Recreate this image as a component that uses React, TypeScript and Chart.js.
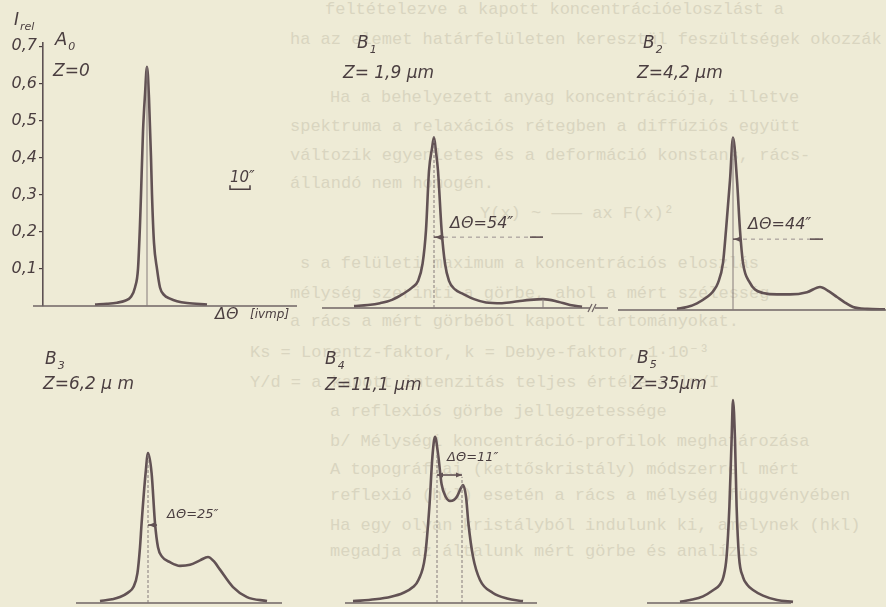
import React, { useEffect, useRef } from 'react';
import { Chart, registerables } from 'chart.js';
Chart.register(...registerables);

// ---------------- DATA (Δθ in arc-seconds from the main peak, relative intensity) ----------------
const A0_THETA = [-26, -20, -15, -11, -8, -6, -4.5, -3.5, -3, -2, -1, 0, 1, 2, 2.5, 3.5, 5, 6.5, 8.5, 11.5, 15, 20, 30];
const A0_IREL = [0.004, 0.006, 0.009, 0.014, 0.025, 0.05, 0.1, 0.22, 0.3, 0.47, 0.57, 0.645, 0.56, 0.4, 0.3, 0.17, 0.1, 0.05, 0.03, 0.02, 0.013, 0.008, 0.004];

const B1_THETA = [-40, -33, -27, -21, -15.5, -11, -8, -5.7, -4, -2.5, -1, 0, 1, 2, 3.8, 5.5, 7.5, 10.5, 14.5, 20, 26, 34, 42, 48, 54.5, 62, 68, 74];
const B1_IREL = [0.005, 0.008, 0.013, 0.022, 0.038, 0.055, 0.073, 0.12, 0.21, 0.37, 0.43, 0.46, 0.42, 0.37, 0.21, 0.12, 0.073, 0.05, 0.038, 0.024, 0.015, 0.013, 0.018, 0.022, 0.024, 0.017, 0.008, 0.003];

const B2_THETA = [-28, -23, -18, -13, -10, -7.5, -5, -3.5, -1.5, 0, 2, 3.5, 5, 8.5, 11, 15, 22, 28.5, 37, 43.5, 48, 52, 56, 60, 67, 76];
const B2_IREL = [0.003, 0.008, 0.018, 0.035, 0.05, 0.073, 0.127, 0.215, 0.35, 0.465, 0.35, 0.215, 0.127, 0.073, 0.055, 0.046, 0.042, 0.042, 0.048, 0.062, 0.05, 0.035, 0.02, 0.008, 0.003, 0.002];

const B3_THETA = [-24, -18, -14, -10, -7.3, -5.3, -4, -3.2, -1.2, 0, 1.8, 3.5, 5, 7, 11, 16, 21, 26, 30, 33, 36, 42.5, 49.5, 59.5];
const B3_IREL = [0.005, 0.01, 0.016, 0.028, 0.043, 0.08, 0.15, 0.215, 0.35, 0.404, 0.35, 0.215, 0.15, 0.125, 0.11, 0.1, 0.103, 0.115, 0.124, 0.112, 0.09, 0.043, 0.016, 0.005];

const B4_THETA = [-41, -30, -22, -16, -11, -8.3, -5, -2.8, -1.3, 0, 1.7, 3.3, 5.5, 7.5, 9.5, 11, 13, 14, 15.5, 16.7, 19, 22.5, 29, 36, 44];
const B4_IREL = [0.005, 0.01, 0.017, 0.027, 0.043, 0.062, 0.125, 0.26, 0.394, 0.448, 0.394, 0.32, 0.285, 0.275, 0.278, 0.287, 0.31, 0.318, 0.287, 0.215, 0.125, 0.062, 0.027, 0.012, 0.005];

const B5_THETA = [-26.5, -21.5, -15, -9.8, -6.5, -4.8, -3.2, -1.8, -0.7, 0, 1, 1.8, 3, 5, 7, 10, 15, 22, 30];
const B5_IREL = [0.003, 0.008, 0.018, 0.035, 0.05, 0.07, 0.125, 0.26, 0.44, 0.547, 0.44, 0.26, 0.125, 0.07, 0.05, 0.035, 0.02, 0.008, 0.003];

const Y_TICKS = [0.1, 0.2, 0.3, 0.4, 0.5, 0.6, 0.7];
const SAMPLE_NAMES = ['A', 'B', 'B', 'B', 'B', 'B'];
const SAMPLE_SUBS = ['0', '1', '2', '3', '4', '5'];
const DEPTHS = ['Z=0', 'Z= 1,9 μm', 'Z=4,2 μm', 'Z=6,2 μ m', 'Z=11,1 μm', 'Z=35μm'];
const SPLITS = ['ΔΘ=54″', 'ΔΘ=44″', 'ΔΘ=25″', 'ΔΘ=11″'];
const SCALE_LABEL = '10″';
const X_TITLE = 'ΔΘ';
const X_UNIT = '[ivmp]';

// faint bleed-through typewriter text of the scanned page
const BG_LINES: [number, number, string][] = [
  [325, 0, 'feltételezve a kapott koncentrációeloszlást a'],
  [290, 30, 'ha az elemet határfelületen keresztül feszültségek okozzák'],
  [330, 88, 'Ha a behelyezett anyag koncentrációja, illetve'],
  [290, 117, 'spektruma a relaxációs rétegben a diffúziós együtt'],
  [290, 146, 'változik egyenletes és a deformáció konstans, rács-'],
  [290, 174, 'állandó nem homogén.'],
  [480, 204, 'Y(x) ~ ——— ax F(x)²'],
  [300, 254, 's a felületi maximum a koncentrációs eloszlás'],
  [290, 284, 'mélység szerinti a görbe, ahol a mért szélesség'],
  [290, 312, 'a rács a mért görbéből kapott tartományokat.'],
  [250, 343, 'Ks = Lorentz-faktor, k = Debye-faktor, 1·10⁻³'],
  [250, 373, 'Y/d = a kapott intenzitás teljes értéke = ln/I'],
  [330, 402, 'a reflexiós görbe jellegzetessége'],
  [330, 432, 'b/ Mélységi koncentráció-profilok meghatározása'],
  [330, 460, 'A topográfiai (kettőskristály) módszerrel mért'],
  [330, 486, 'reflexió (hkl) esetén a rács a mélység függvényében'],
  [330, 516, 'Ha egy olyan kristályból indulunk ki, amelynek (hkl)'],
  [330, 542, 'megadja az általunk mért görbe és analízis'],
];

// ---------------- STYLE ----------------
const BG = '#eeebd6';
const BG_TEXT = '#d9d5c0';
const INK = '#4a3e40';
const CURVE = '#625254';
const THIN = '#857a7a';
const FONT = '"DejaVu Sans", "Liberation Sans", sans-serif';

type Item =
  | { k: 'text'; x: number; y: number; s: string; size: number; sub?: string }
  | { k: 'base'; from: number; to: number }
  | { k: 'vline'; x: number; y0: number; y1: number; dash?: boolean }
  | { k: 'hline'; y: number; x0: number; x1: number }
  | { k: 'seg'; y: number; x0: number; x1: number }
  | { k: 'head'; x: number; y: number; dir: number }
  | { k: 'bracket'; x0: number; x1: number; y: number }
  | { k: 'break'; x: number };

function decor(items: Item[]) {
  return {
    id: 'decor',
    afterDatasetsDraw(chart: any) {
      const { ctx } = chart;
      const xs = chart.scales.x;
      const ys = chart.scales.y;
      const X = (v: number) => xs.getPixelForValue(v);
      const Y = (v: number) => ys.getPixelForValue(v);
      ctx.save();
      for (const it of items) {
        ctx.setLineDash([]);
        if (it.k === 'base') {
          ctx.strokeStyle = '#6f6465';
          ctx.lineWidth = 1.6;
          ctx.beginPath();
          ctx.moveTo(X(it.from), Y(0));
          ctx.lineTo(X(it.to), Y(0));
          ctx.stroke();
        } else if (it.k === 'vline') {
          ctx.strokeStyle = THIN;
          ctx.lineWidth = 1;
          if (it.dash) ctx.setLineDash([3, 2]);
          ctx.beginPath();
          ctx.moveTo(X(it.x), Y(it.y0));
          ctx.lineTo(X(it.x), Y(it.y1));
          ctx.stroke();
        } else if (it.k === 'hline') {
          ctx.strokeStyle = '#9a9090';
          ctx.lineWidth = 1;
          ctx.setLineDash([4, 4]);
          ctx.beginPath();
          ctx.moveTo(X(it.x0), Y(it.y));
          ctx.lineTo(X(it.x1), Y(it.y));
          ctx.stroke();
        } else if (it.k === 'seg') {
          ctx.strokeStyle = CURVE;
          ctx.lineWidth = 1.6;
          ctx.beginPath();
          ctx.moveTo(X(it.x0), Y(it.y));
          ctx.lineTo(X(it.x1), Y(it.y));
          ctx.stroke();
        } else if (it.k === 'head') {
          const px = X(it.x), py = Y(it.y);
          ctx.fillStyle = CURVE;
          ctx.beginPath();
          ctx.moveTo(px, py);
          ctx.lineTo(px - it.dir * 6, py - 2.5);
          ctx.lineTo(px - it.dir * 6, py + 2.5);
          ctx.closePath();
          ctx.fill();
        } else if (it.k === 'bracket') {
          ctx.strokeStyle = INK;
          ctx.lineWidth = 1.5;
          ctx.beginPath();
          ctx.moveTo(X(it.x0), Y(it.y) - 4);
          ctx.lineTo(X(it.x0), Y(it.y));
          ctx.lineTo(X(it.x1), Y(it.y));
          ctx.lineTo(X(it.x1), Y(it.y) - 4);
          ctx.stroke();
        } else if (it.k === 'break') {
          const px = X(it.x), py = Y(0);
          ctx.fillStyle = BG;
          ctx.fillRect(px - 2, py - 2, 5, 4);
          ctx.strokeStyle = '#6f6465';
          ctx.lineWidth = 1.3;
          for (const d of [-2, 2]) {
            ctx.beginPath();
            ctx.moveTo(px + d - 2, py + 4);
            ctx.lineTo(px + d + 2, py - 4);
            ctx.stroke();
          }
        } else if (it.k === 'text') {
          ctx.fillStyle = INK;
          ctx.textBaseline = 'middle';
          ctx.textAlign = 'left';
          ctx.font = `italic ${it.size}px ${FONT}`;
          const px = X(it.x), py = Y(it.y);
          ctx.fillText(it.s, px, py);
          if (it.sub) {
            const w = ctx.measureText(it.s).width;
            ctx.font = `italic ${Math.round(it.size * 0.62)}px ${FONT}`;
            ctx.fillText(it.sub, px + w + 1, py + it.size * 0.38);
          }
        }
      }
      ctx.restore();
    },
  };
}

type PanelCfg = {
  left: number; top: number; w: number; h: number;
  theta: number[]; irel: number[];
  xMin: number; xMax: number; yMin: number; yMax: number;
  axis?: boolean; padding?: any; items: Item[];
};

const PX = 371; // pixels per unit of I_rel

const PANELS: PanelCfg[] = [
  {
    left: 0, top: 0, w: 300, h: 330, theta: A0_THETA, irel: A0_IREL,
    xMin: -52, xMax: 76.5, yMin: 0, yMax: 263 / PX, axis: true,
    padding: { top: 43, bottom: 24, left: 0, right: 0 },
    items: [
      { k: 'base', from: -57, to: 75 },
      { k: 'vline', x: 0, y0: 0, y1: 0.645 },
      { k: 'text', x: -66.5, y: 0.77, s: 'I', sub: 'rel', size: 17 },
      { k: 'text', x: -46, y: 0.717, s: SAMPLE_NAMES[0], sub: SAMPLE_SUBS[0], size: 18 },
      { k: 'text', x: -47, y: 0.632, s: DEPTHS[0], size: 17 },
      { k: 'text', x: 41.5, y: 0.345, s: SCALE_LABEL, size: 15 },
      { k: 'bracket', x0: 41.5, x1: 51.5, y: 0.315 },
      { k: 'text', x: 34, y: -0.025, s: X_TITLE, size: 16 },
      { k: 'text', x: 51.5, y: -0.025, s: X_UNIT, size: 12 },
    ],
  },
  {
    left: 300, top: 0, w: 310, h: 330, theta: B1_THETA, irel: B1_IREL,
    xMin: -67, xMax: 88, yMin: -22 / PX, yMax: 308 / PX,
    items: [
      { k: 'base', from: -56, to: 87 },
      { k: 'break', x: 79 },
      { k: 'vline', x: 0, y0: 0, y1: 0.46, dash: true },
      { k: 'vline', x: 54.5, y0: 0, y1: 0.024 },
      { k: 'hline', y: 0.191, x0: 1, x1: 54.5 },
      { k: 'seg', y: 0.191, x0: 0, x1: 5 },
      { k: 'head', x: 0.5, y: 0.191, dir: -1 },
      { k: 'seg', y: 0.191, x0: 48, x1: 54.5 },
      { k: 'text', x: -38.5, y: 0.712, s: SAMPLE_NAMES[1], sub: SAMPLE_SUBS[1], size: 17 },
      { k: 'text', x: -45.5, y: 0.631, s: DEPTHS[1], size: 17 },
      { k: 'text', x: 8, y: 0.226, s: SPLITS[0], size: 16 },
    ],
  },
  {
    left: 610, top: 0, w: 276, h: 330, theta: B2_THETA, irel: B2_IREL,
    xMin: -61.5, xMax: 76.5, yMin: -20 / PX, yMax: 310 / PX,
    items: [
      { k: 'base', from: -57.5, to: 76.5 },
      { k: 'vline', x: 0, y0: 0, y1: 0.465 },
      { k: 'hline', y: 0.191, x0: 1, x1: 45 },
      { k: 'seg', y: 0.191, x0: 0, x1: 4 },
      { k: 'head', x: 0.5, y: 0.191, dir: -1 },
      { k: 'seg', y: 0.191, x0: 38.5, x1: 45 },
      { k: 'text', x: -45, y: 0.717, s: SAMPLE_NAMES[2], sub: SAMPLE_SUBS[2], size: 17 },
      { k: 'text', x: -48, y: 0.637, s: DEPTHS[2], size: 17 },
      { k: 'text', x: 7.5, y: 0.229, s: SPLITS[1], size: 16 },
    ],
  },
  {
    left: 0, top: 330, w: 300, h: 277, theta: B3_THETA, irel: B3_IREL,
    xMin: -74, xMax: 76, yMin: -4 / PX, yMax: 273 / PX,
    items: [
      { k: 'base', from: -36, to: 67 },
      { k: 'vline', x: 0, y0: 0, y1: 0.404, dash: true },
      { k: 'seg', y: 0.21, x0: 0, x1: 4.5 },
      { k: 'head', x: 0.3, y: 0.21, dir: -1 },
      { k: 'text', x: -51.5, y: 0.655, s: SAMPLE_NAMES[3], sub: SAMPLE_SUBS[3], size: 17 },
      { k: 'text', x: -52.5, y: 0.588, s: DEPTHS[3], size: 17 },
      { k: 'text', x: 9.5, y: 0.237, s: SPLITS[2], size: 13 },
    ],
  },
  {
    left: 300, top: 330, w: 300, h: 277, theta: B4_THETA, irel: B4_IREL,
    xMin: -67.5, xMax: 82.5, yMin: -4 / PX, yMax: 273 / PX,
    items: [
      { k: 'base', from: -45, to: 51 },
      { k: 'vline', x: 1, y0: 0, y1: 0.4, dash: true },
      { k: 'vline', x: 13.5, y0: 0, y1: 0.34, dash: true },
      { k: 'seg', y: 0.345, x0: 1, x1: 13.5 },
      { k: 'head', x: 1, y: 0.345, dir: -1 },
      { k: 'head', x: 13.5, y: 0.345, dir: 1 },
      { k: 'text', x: -55, y: 0.655, s: SAMPLE_NAMES[4], sub: SAMPLE_SUBS[4], size: 17 },
      { k: 'text', x: -55, y: 0.585, s: DEPTHS[4], size: 17 },
      { k: 'text', x: 6, y: 0.391, s: SPLITS[3], size: 13 },
    ],
  },
  {
    left: 600, top: 330, w: 286, h: 277, theta: B5_THETA, irel: B5_IREL,
    xMin: -66.5, xMax: 76.5, yMin: -4 / PX, yMax: 273 / PX,
    items: [
      { k: 'base', from: -43, to: 29 },
      { k: 'text', x: -48, y: 0.658, s: SAMPLE_NAMES[5], sub: SAMPLE_SUBS[5], size: 17 },
      { k: 'text', x: -50.5, y: 0.59, s: DEPTHS[5], size: 17 },
    ],
  },
];

function Panel({ p }: { p: PanelCfg }) {
  const ref = useRef<HTMLCanvasElement>(null);
  useEffect(() => {
    const yScale: any = p.axis
      ? {
          type: 'linear', position: 'left', min: p.yMin, max: p.yMax,
          afterFit: (s: any) => { s.width = 43; },
          afterBuildTicks: (s: any) => { s.ticks = Y_TICKS.map((v) => ({ value: v })); },
          ticks: {
            autoSkip: false, padding: 2, color: INK,
            font: { family: FONT, size: 16, style: 'italic' },
            callback: (v: any) => Number(v).toFixed(1).replace('.', ','),
          },
          grid: { drawOnChartArea: false, drawTicks: true, tickLength: 4, color: INK, lineWidth: 1.2 },
          border: { display: true, color: '#5d5153', width: 1.6 },
        }
      : { type: 'linear', min: p.yMin, max: p.yMax, display: false };
    const chart = new Chart(ref.current!, {
      type: 'line',
      data: {
        datasets: [{
          data: p.theta.map((t, i) => ({ x: t, y: p.irel[i] })),
          borderColor: CURVE, borderWidth: 2.6, pointRadius: 0,
          cubicInterpolationMode: 'monotone', fill: false, clip: false,
        } as any],
      },
      options: {
        responsive: false, animation: false, events: [],
        layout: { padding: p.padding ?? 0 },
        plugins: { legend: { display: false }, tooltip: { enabled: false } },
        scales: {
          x: { type: 'linear', min: p.xMin, max: p.xMax, display: false },
          y: yScale,
        },
      },
      plugins: [decor(p.items) as any],
    });
    return () => chart.destroy();
  }, []);
  return (
    <canvas
      ref={ref}
      width={p.w}
      height={p.h}
      style={{ position: 'absolute', left: p.left, top: p.top, width: p.w, height: p.h }}
    />
  );
}

export default function App() {
  return (
    <div style={{ position: 'absolute', left: 0, top: 0, width: 886, height: 607, background: BG, overflow: 'hidden' }}>
      {BG_LINES.map(([x, y, s], i) => (
        <div
          key={i}
          style={{
            position: 'absolute', left: x, top: y, whiteSpace: 'pre', color: BG_TEXT,
            font: '17px "Liberation Mono", "DejaVu Sans Mono", monospace', lineHeight: '20px',
          }}
        >
          {s}
        </div>
      ))}
      {PANELS.map((p, i) => (
        <Panel key={i} p={p} />
      ))}
    </div>
  );
}
